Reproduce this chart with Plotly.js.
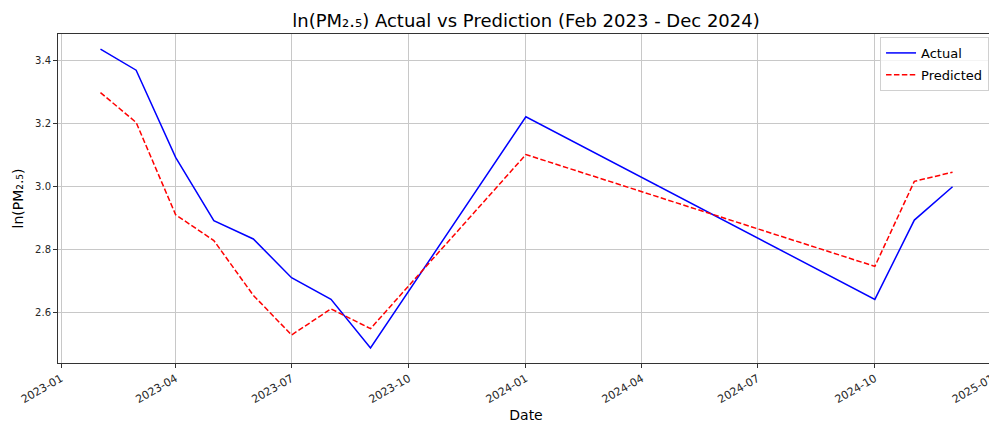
<!DOCTYPE html>
<html>
<head>
<meta charset="utf-8">
<script src="https://cdn.plot.ly/plotly-3.0.1.min.js"></script>
<style>html,body{margin:0;padding:0;background:#fff;overflow:hidden;width:989px;height:423px;}#chart{width:995px;height:423px;}</style>
</head>
<body>
<div id="chart"></div>
<script>
const dates = ["2023-02-01","2023-03-01","2023-04-01","2023-05-01","2023-06-01","2023-07-01","2023-08-01","2023-09-01","2024-01-01","2024-10-01","2024-11-01","2024-12-01"];
const actual = [3.435,3.368,3.091,2.890,2.832,2.709,2.640,2.486,3.220,2.640,2.892,2.998];
const predicted = [3.297,3.202,2.909,2.827,2.653,2.527,2.610,2.547,3.100,2.745,3.015,3.044];
const yTicks = [2.6,2.8,3.0,3.2,3.4];
const yTickText = ["2.6","2.8","3.0","3.2","3.4"];

const font = "DejaVu Sans, sans-serif";
const traces = [
  {x: dates, y: actual, type: "scatter", mode: "lines", name: "Actual", legendgroup: "a",
   line: {color: "#0000ff", width: 1.5}},
  {x: dates, y: predicted, type: "scatter", mode: "lines", name: "Predicted", legendgroup: "p",
   line: {color: "#ff0000", width: 1.5, dash: "5.5px,2.4px"}}
];
const layout = {
  width: 995, height: 423,
  margin: {l: 58, r: 1, t: 34, b: 60, autoexpand: false},
  paper_bgcolor: "#fff", plot_bgcolor: "#fff",
  font: {family: font, color: "#262626", size: 10},
  title: {text: "ln(PM₂.₅) Actual vs Prediction (Feb 2023 - Dec 2024)", font: {family: font, size: 18, color: "#000"}, x: 0.5, xref: "paper", xanchor: "center", y: 0.95, yref: "container", yanchor: "middle"},
  xaxis: {
    type: "date", range: ["2022-12-29 15:30", "2025-01-02 13:00"],
    tick0: "2023-01-01", dtick: "M3", tickformat: "%Y-%m", tickangle: -30,
    automargin: false, ticklabeloverflow: "allow",
    showgrid: true, gridcolor: "#c8c8c8", gridwidth: 1,
    showline: true, linecolor: "#333", linewidth: 1, mirror: true,
    ticks: "outside", ticklen: 4, tickcolor: "#333",
    zeroline: false,
    tickfont: {family: font, size: 11, color: "#262626"},
    title: {text: "Date", font: {family: font, size: 14, color: "#000"}, standoff: 6}
  },
  yaxis: {
    range: [2.438, 3.483],
    tickvals: yTicks, ticktext: yTickText,
    automargin: false,
    showgrid: true, gridcolor: "#c8c8c8", gridwidth: 1,
    showline: true, linecolor: "#333", linewidth: 1, mirror: true,
    ticks: "outside", ticklen: 4, tickcolor: "#333",
    zeroline: false,
    tickfont: {family: font, size: 10, color: "#262626"},
    title: {text: "ln(PM₂.₅)", font: {family: font, size: 14, color: "#000"}, standoff: 8}
  },
  showlegend: true,
  legend: {x: 0.9947, xanchor: "right", y: 0.991, yanchor: "top", traceorder: "grouped",
    bgcolor: "rgba(255,255,255,0.8)", bordercolor: "#d0d0d0", borderwidth: 1,
    font: {family: font, size: 13, color: "#000"}, tracegroupgap: 2}
};
Plotly.newPlot("chart", traces, layout, {displayModeBar: false, staticPlot: true});
</script>
</body>
</html>
